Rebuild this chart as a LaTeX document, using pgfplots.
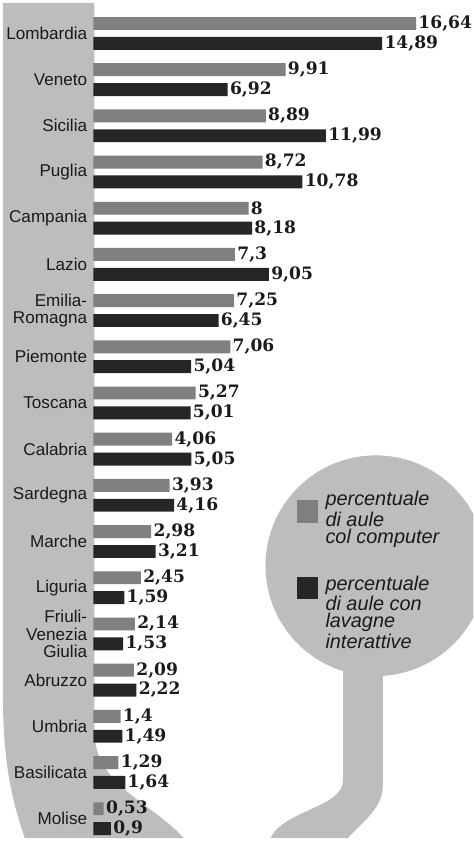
\documentclass[border=0pt]{standalone}
\usepackage{pgfplots}
\usepackage{pgfplotstable}
\pgfplotsset{compat=1.18}
\usepackage{fontspec}
\setmainfont{Liberation Sans}
\newfontfamily\valfont{DejaVu Serif}
\definecolor{bgc}{HTML}{BDBDBD}
\definecolor{c1}{HTML}{808080}
\definecolor{c2}{HTML}{262626}
\definecolor{txt}{HTML}{1A1A1A}

\pgfplotstableread{
idx comp lav
0 16.64 14.89
1 9.91 6.92
2 8.89 11.99
3 8.72 10.78
4 8 8.18
5 7.3 9.05
6 7.25 6.45
7 7.06 5.04
8 5.27 5.01
9 4.06 5.05
10 3.93 4.16
11 2.98 3.21
12 2.45 1.59
13 2.14 1.53
14 2.09 2.22
15 1.4 1.49
16 1.29 1.64
17 0.53 0.9
}\datatable

\begin{document}
\begin{tikzpicture}
\begin{scope}[x=0.5pt,y=-0.5pt]
\useasboundingbox (0,0) rectangle (476,843);
\clip (0,0) rectangle (476,843);
% left panel
\fill[bgc] (3,3) -- (95,3) -- (95,735) .. controls (95,790) and (150,805) .. (185,843) -- (25,843) .. controls (10,800) and (3,760) .. (3,700) -- cycle;
% legend circle and stem
\fill[bgc] (378,569) circle[radius=55.5pt];
\fill[bgc] (345,660) -- (385,660) -- (385,790) .. controls (385,815) and (360,830) .. (350,843) -- (272,843) .. controls (285,815) and (345,812) .. (345,785) -- cycle;
\end{scope}

\begin{axis}[
  at={(47pt,-421.5pt)}, anchor=south west,
  scale only axis, width=191pt, height=421.5pt,
  xmin=0, xmax=19.5897, ymin=-0.7232, ymax=17.4214, y dir=reverse,
  xbar, bar width=6.5pt,
  clip=false,
  axis line style={draw=none}, major tick length=0pt,
  xtick=\empty,
  ytick={0,...,17},
  yticklabels={Lombardia,Veneto,Sicilia,Puglia,Campania,Lazio,{Emilia-\\Romagna},Piemonte,Toscana,Calabria,Sardegna,Marche,Liguria,{Friuli-\\Venezia\\Giulia},Abruzzo,Umbria,Basilicata,Molise},
  yticklabel style={font=\fontsize{8.6}{8.8}\selectfont, align=right, inner xsep=0pt, xshift=-3pt, text=txt},
  point meta=x,
  nodes near coords={\pgfmathprintnumber[use comma]{\pgfplotspointmeta}},
  /pgf/number format/assume math mode=true,
  nodes near coords style={font=\valfont\bfseries\fontsize{8.6}{8.6}\selectfont, anchor=west, inner xsep=1pt, text=txt},
]
\addplot[fill=c1, draw=none, bar shift=5pt] table[x=comp,y=idx]{\datatable};
\addplot[fill=c2, draw=none, bar shift=-5pt] table[x=lav,y=idx]{\datatable};
\end{axis}

\begin{scope}[x=0.5pt,y=-0.5pt]
% legend
\fill[c1] (299,503) rectangle (320,526);
\node[anchor=north west, align=left, font=\itshape\fontsize{10}{8.5}\selectfont, inner sep=0pt, text=txt] at (327,494) {percentuale\\di aule\\col computer};
\fill[c2] (299,580) rectangle (320,602);
\node[anchor=north west, align=left, font=\itshape\fontsize{10}{8.5}\selectfont, inner sep=0pt, text=txt] at (327,579) {percentuale\\di aule con\\lavagne\\interattive};
\end{scope}
\end{tikzpicture}
\end{document}
